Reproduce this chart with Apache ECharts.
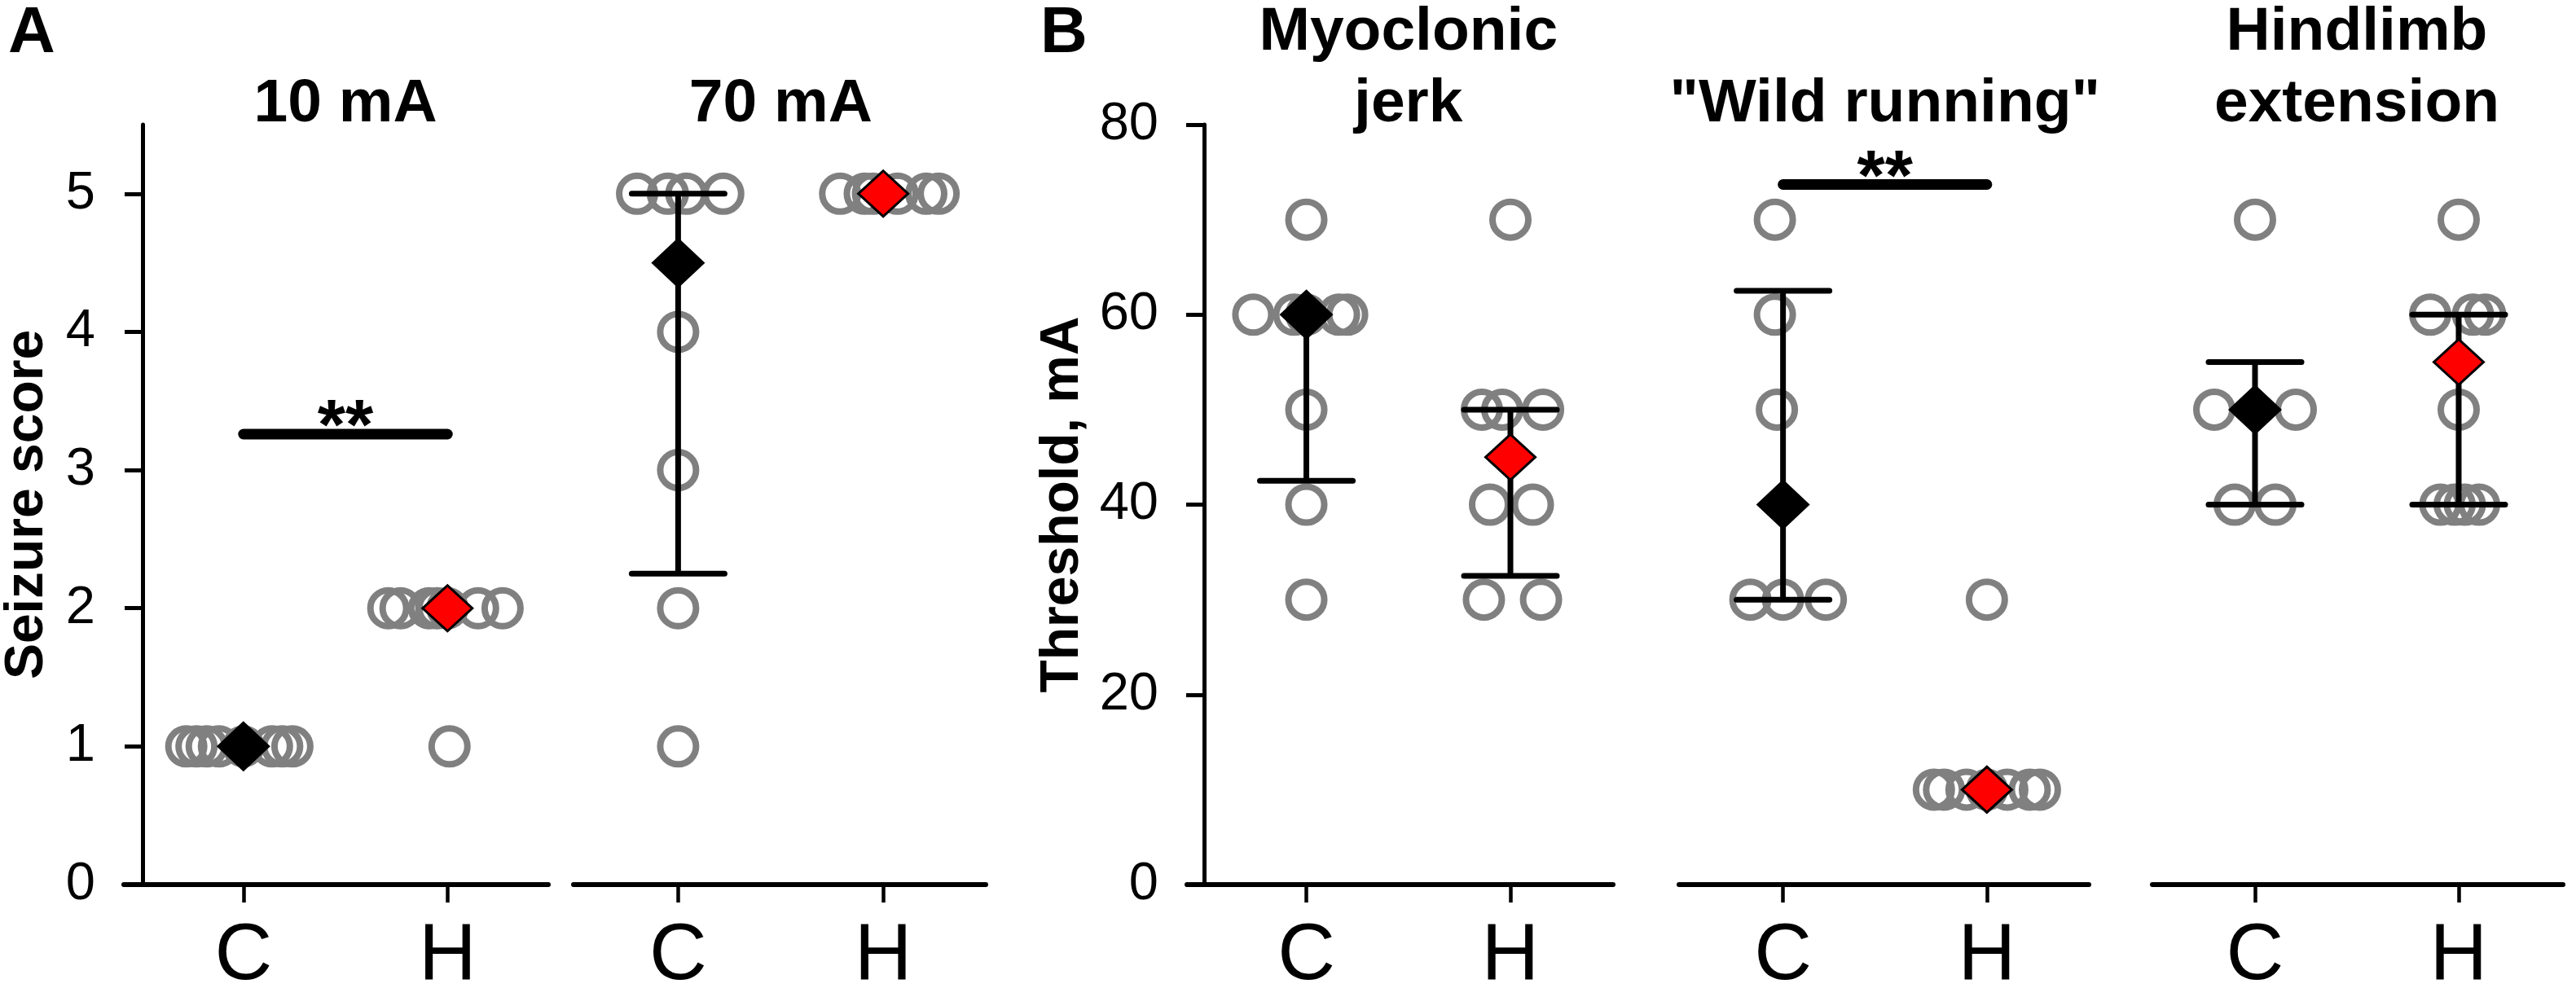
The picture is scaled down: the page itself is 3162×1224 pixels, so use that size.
<!DOCTYPE html>
<html>
<head>
<meta charset="utf-8">
<title>Seizure score / threshold</title>
<script src="https://cdn.jsdelivr.net/npm/echarts@6/dist/echarts.min.js"></script>
<style>
    html, body { margin: 0; padding: 0; background: #fff; }
    #chart { width: 3162px; height: 1224px; }
</style>
</head>
<body>
<div id="chart"></div>
<script>
// 字体
var FONT = 'Liberation Sans, Arial, sans-serif';

// 标题、组名、刻度
var panelTitles = ['10 mA', '70 mA', 'Myoclonic\njerk', '"Wild running"', 'Hindlimb\nextension'];
var groupNames = ['C', 'H'];
var scoreTicks = [0, 1, 2, 3, 4, 5];
var thresholdTicks = [0, 20, 40, 60, 80];

// 每只动物的点: [横向抖动, 数值]
var ptsA10C = [[-0.28, 1], [-0.23, 1], [-0.18, 1], [-0.12, 1], [0, 1], [0.14, 1], [0.19, 1], [0.24, 1]];
var ptsA10H = [[-0.29, 2], [-0.23, 2], [-0.09, 2], [-0.05, 2], [0, 2], [0.15, 2], [0.27, 2], [0.01, 1]];
var ptsA70C = [[-0.2, 5], [-0.05, 5], [0.04, 5], [0.22, 5], [0, 4], [0, 3], [0, 2], [0, 1]];
var ptsA70H = [[-0.21, 5], [-0.09, 5], [-0.05, 5], [0.07, 5], [0.21, 5], [0.27, 5]];
var ptsMyoC = [[0, 70], [-0.26, 60], [-0.06, 60], [0, 60], [0.16, 60], [0.2, 60], [0, 50], [0, 40], [0, 30]];
var ptsMyoH = [[0, 70], [-0.14, 50], [-0.04, 50], [0.16, 50], [-0.1, 40], [0.11, 40], [-0.13, 30], [0.15, 30]];
var ptsWildC = [[-0.04, 70], [-0.04, 60], [-0.03, 50], [-0.16, 30], [0, 30], [0.21, 30]];
var ptsWildH = [[0, 30], [-0.26, 10], [-0.21, 10], [-0.1, 10], [0, 10], [0.1, 10], [0.21, 10], [0.26, 10]];
var ptsHindC = [[0, 70], [-0.2, 50], [0.2, 50], [-0.1, 40], [0.1, 40]];
var ptsHindH = [[0, 70], [-0.14, 60], [0.07, 60], [0.13, 60], [0, 50], [-0.09, 40], [-0.02, 40], [0.03, 40], [0.1, 40]];

// 中位数与四分位范围
var medianC = [1, 4.5, 60, 40, 50];
var medianH = [2, 5, 45, 10, 55];
var iqrC = [[1, 1], [2.25, 5], [42.5, 60], [30, 62.5], [40, 55]];
var iqrH = [[2, 2], [5, 5], [32.5, 50], [10, 10], [40, 60]];

// 显著性横线高度 (null 表示没有)
var sigLevel = [3.26, null, null, 73.7, null];

var points = [[ptsA10C, ptsA10H], [ptsA70C, ptsA70H], [ptsMyoC, ptsMyoH], [ptsWildC, ptsWildH], [ptsHindC, ptsHindH]];

// 每个小图的位置 (像素) 和横轴范围
var gridBox = [
    { left: 151, width: 522, xMin: -0.586, xMax: 1.494 },
    { left: 704, width: 506, xMin: -0.51, xMax: 1.5 },
    { left: 1457, width: 523, xMin: -0.585, xMax: 1.503 },
    { left: 2061, width: 503, xMin: -0.51, xMax: 1.5 },
    { left: 2642, width: 504, xMin: -0.504, xMax: 1.512 }
];

let errorBarItem = (params, api) => {
    let x = api.value(0), med = api.value(1), lo = api.value(2), hi = api.value(3);
    if (lo === hi) return;
    let pLo = api.coord([x, lo]);
    let pHi = api.coord([x, hi]);
    let children = [{
        type: 'line',
        shape: { x1: pLo[0], y1: pLo[1], x2: pHi[0], y2: pHi[1] },
        style: { stroke: '#000', lineWidth: 7 }
    }];
    // 只在端点不等于中位数时画横帽
    [[lo, pLo], [hi, pHi]].forEach(item => {
        if (item[0] !== med) {
            children.push({
                type: 'line',
                shape: { x1: item[1][0] - 57, y1: item[1][1], x2: item[1][0] + 57, y2: item[1][1] },
                style: { stroke: '#000', lineWidth: 7, lineCap: 'round' }
            });
        }
    });
    return { type: 'group', children: children };
};

let grids = [], xAxes = [], yAxes = [], series = [];

gridBox.forEach((g, i) => {
    let isScore = i < 2;
    let ticks = isScore ? scoreTicks : thresholdTicks;
    grids.push({ left: g.left, width: g.width, top: 153, bottom: 135 });

    xAxes.push({
        gridIndex: i,
        type: 'value',
        min: g.xMin,
        max: g.xMax,
        axisLine: { show: true, onZero: false, lineStyle: { color: '#000', width: 6, cap: 'round' } },
        axisTick: { show: true, customValues: [0, 1], length: 22, lineStyle: { color: '#000', width: 4.5 } },
        axisLabel: {
            customValues: [0, 1],
            formatter: v => groupNames[Math.round(v)],
            fontSize: 98, margin: 40, color: '#000', fontFamily: FONT
        },
        splitLine: { show: false }
    });

    yAxes.push({
        gridIndex: i,
        type: 'value',
        min: 0,
        max: isScore ? 5.5 : 80,
        show: i == 0 || i == 2,
        offset: i == 0 ? -23 : -21,
        name: i == 0 ? 'Seizure score' : (i == 2 ? 'Threshold, mA' : ''),
        nameLocation: 'middle',
        nameRotate: 90,
        nameGap: i == 0 ? 108 : 140,
        nameTextStyle: { fontSize: 66, fontWeight: 'bold', color: '#000', fontFamily: FONT },
        axisLine: { show: true, onZero: false, lineStyle: { color: '#000', width: 5 } },
        axisTick: { show: true, customValues: ticks, length: 22, lineStyle: { color: '#000', width: 5 } },
        axisLabel: { customValues: ticks, fontSize: 65, margin: i == 0 ? 58 : 56, color: '#000', fontFamily: FONT },
        splitLine: { show: false }
    });

    // 灰色空心圆
    let circles = [];
    points[i].forEach((grp, gi) => {
        grp.forEach(p => circles.push([p[0] + gi, p[1]]));
    });
    series.push({
        type: 'scatter', xAxisIndex: i, yAxisIndex: i, silent: true, z: 2,
        symbol: 'circle', symbolSize: 44,
        itemStyle: { color: 'rgba(0,0,0,0)', borderColor: '#808080', borderWidth: 8, opacity: 1 },
        data: circles
    });

    // 误差线
    series.push({
        type: 'custom', xAxisIndex: i, yAxisIndex: i, silent: true, z: 3,
        renderItem: errorBarItem,
        encode: { x: 0, y: [2, 3] },
        data: [[0, medianC[i], iqrC[i][0], iqrC[i][1]], [1, medianH[i], iqrH[i][0], iqrH[i][1]]]
    });

    // 中位数菱形
    series.push({
        type: 'scatter', xAxisIndex: i, yAxisIndex: i, silent: true, z: 4,
        symbol: 'diamond', symbolSize: [66, 62],
        itemStyle: { color: '#000', opacity: 1 },
        data: [[0, medianC[i]]]
    });
    series.push({
        type: 'scatter', xAxisIndex: i, yAxisIndex: i, silent: true, z: 4,
        symbol: 'diamond', symbolSize: [61, 56],
        itemStyle: { color: '#ff0000', borderColor: '#000', borderWidth: 3, opacity: 1 },
        data: [[1, medianH[i]]]
    });

    // 显著性标记
    if (sigLevel[i] != null) {
        series.push({
            type: 'line', xAxisIndex: i, yAxisIndex: i, silent: true, z: 3,
            symbol: 'none',
            lineStyle: { color: '#000', width: 13, cap: 'round' },
            data: [[0, sigLevel[i]], [1, sigLevel[i]]]
        });
        series.push({
            type: 'scatter', xAxisIndex: i, yAxisIndex: i, silent: true, z: 3,
            symbolSize: 1,
            itemStyle: { color: 'rgba(0,0,0,0)', opacity: 1 },
            label: {
                show: true, position: 'inside', offset: [0, -6],
                formatter: '**', fontSize: 88, fontWeight: 'bold', color: '#000',
                textBorderWidth: 0, fontFamily: FONT
            },
            data: [[0.5, sigLevel[i]]]
        });
    }
});

let chart = echarts.init(document.getElementById('chart'));
chart.setOption({
    animation: false,
    backgroundColor: '#fff',
    grid: grids,
    xAxis: xAxes,
    yAxis: yAxes,
    series: series
});

// 标题放在两组中间
let graphics = panelTitles.map((t, i) => ({
    type: 'text',
    x: chart.convertToPixel({ xAxisIndex: i }, 0.5),
    y: 172,
    style: {
        text: t, fill: '#000', font: 'bold 75px ' + FONT,
        align: 'center', verticalAlign: 'bottom', lineHeight: 88
    }
}));
graphics.push({ type: 'text', x: 10, y: 42, style: { text: 'A', fill: '#000', font: 'bold 80px ' + FONT, align: 'left', verticalAlign: 'middle' } });
graphics.push({ type: 'text', x: 1277, y: 42, style: { text: 'B', fill: '#000', font: 'bold 80px ' + FONT, align: 'left', verticalAlign: 'middle' } });
chart.setOption({ graphic: graphics });
</script>
</body>
</html>
